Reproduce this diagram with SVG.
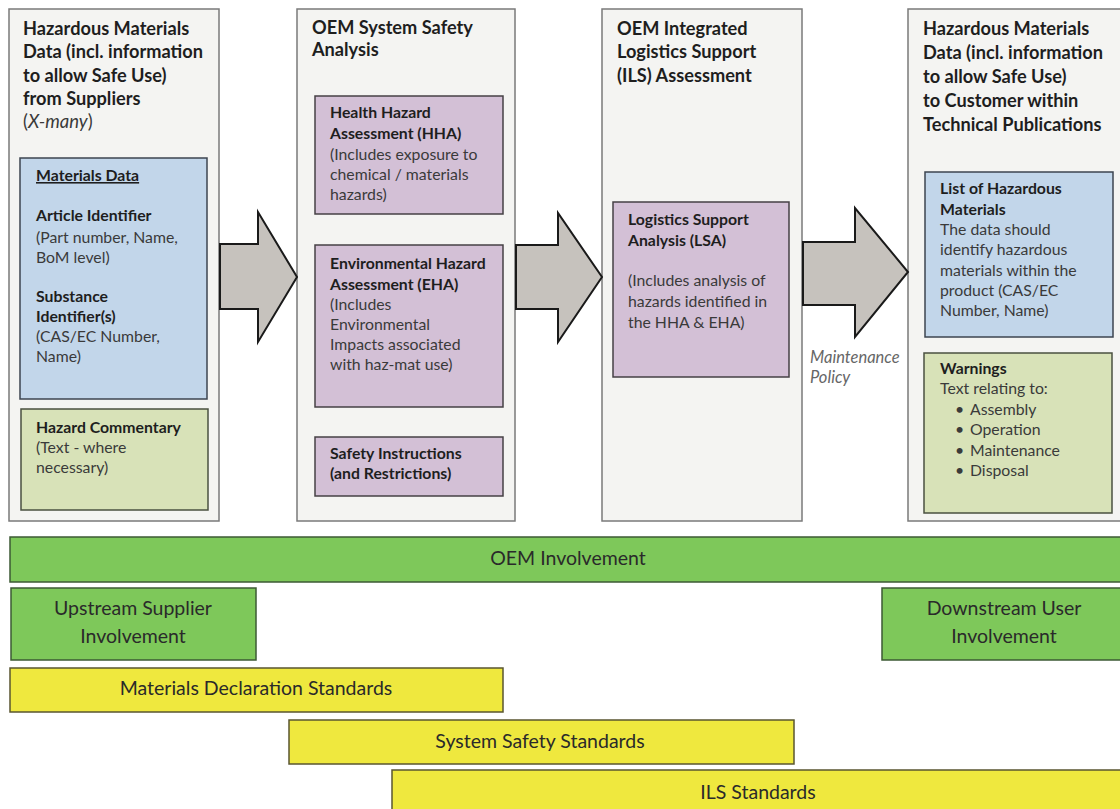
<svg xmlns="http://www.w3.org/2000/svg" width="1120" height="809" viewBox="0 0 1120 809">
<style>
.col{fill:#f4f4f2;stroke:#7a7a7a;stroke-width:1.5}
.blue{fill:#c2d6ea;stroke:#3c4450;stroke-width:1.5}
.lgreen{fill:#d8e2b8;stroke:#4a5040;stroke-width:1.5}
.purple{fill:#d3c0d6;stroke:#454045;stroke-width:1.5}
.arrow{fill:#c6c2bd;stroke:#1a1a1a;stroke-width:2;stroke-linejoin:miter}
.gbar{fill:#7ec85a;stroke:#3d5a34;stroke-width:1.5}
.ybar{fill:#efe83e;stroke:#5a5630;stroke-width:1.5}
text{font-family:Lato,"Liberation Sans",sans-serif}
.t{font-size:18.2px;font-weight:bold;fill:#1e1e1e}
.b{font-size:15.8px;font-weight:bold;fill:#1e1e1e}
.r{font-size:15.8px;fill:#3a3a3a}
.bar{font-size:19.5px;fill:#2a2a2a;text-anchor:middle}
.it{font-size:16.5px;font-style:italic;fill:#666666}
</style>

<g id="col1">
<rect class="col" x="9" y="9" width="210" height="512"/>
<text class="t" x="23"><tspan x="23" y="35">Hazardous Materials</tspan><tspan x="23" y="58">Data (incl. information</tspan><tspan x="23" y="82">to allow Safe Use)</tspan><tspan x="23" y="105">from Suppliers</tspan></text>
<text class="r" x="23" y="128" style="font-size:18.5px">(<tspan font-style="italic">X-many</tspan>)</text>
</g>
<g id="materials-data">
<rect class="blue" x="20" y="158" width="187" height="241"/>
<text class="b" x="36" y="181" text-decoration="underline">Materials Data</text>
<text class="b" x="36" y="221">Article Identifier</text>
<text class="r"><tspan x="36" y="243">(Part number, Name,</tspan><tspan x="36" y="263">BoM level)</tspan></text>
<text class="b"><tspan x="36" y="302">Substance</tspan><tspan x="36" y="322">Identifier(s)</tspan></text>
<text class="r"><tspan x="36" y="342">(CAS/EC Number,</tspan><tspan x="36" y="362">Name)</tspan></text>
</g>
<g id="hazard-commentary">
<rect class="lgreen" x="21" y="409" width="187" height="101"/>
<text class="b" x="36" y="433">Hazard Commentary</text>
<text class="r"><tspan x="36" y="453">(Text - where</tspan><tspan x="36" y="473">necessary)</tspan></text>
</g>

<g id="col2">
<rect class="col" x="297" y="9" width="218" height="512"/>
<text class="t"><tspan x="312" y="34">OEM System Safety</tspan><tspan x="312" y="56">Analysis</tspan></text>
</g>
<g id="hha">
<rect class="purple" x="315" y="96" width="188" height="118"/>
<text class="b"><tspan x="330" y="118">Health Hazard</tspan><tspan x="330" y="139">Assessment (HHA)</tspan></text>
<text class="r"><tspan x="330" y="160">(Includes exposure to</tspan><tspan x="330" y="180">chemical / materials</tspan><tspan x="330" y="200">hazards)</tspan></text>
</g>
<g id="eha">
<rect class="purple" x="315" y="245" width="188" height="162"/>
<text class="b"><tspan x="330" y="269">Environmental Hazard</tspan><tspan x="330" y="290">Assessment (EHA)</tspan></text>
<text class="r"><tspan x="330" y="310">(Includes</tspan><tspan x="330" y="330">Environmental</tspan><tspan x="330" y="350">Impacts associated</tspan><tspan x="330" y="370">with haz-mat use)</tspan></text>
</g>
<g id="safety-instructions">
<rect class="purple" x="315" y="437" width="188" height="59"/>
<text class="b"><tspan x="330" y="459">Safety Instructions</tspan><tspan x="330" y="479">(and Restrictions)</tspan></text>
</g>

<g id="col3">
<rect class="col" x="602" y="9" width="200" height="512"/>
<text class="t"><tspan x="617" y="35">OEM Integrated</tspan><tspan x="617" y="58">Logistics Support</tspan><tspan x="617" y="82">(ILS) Assessment</tspan></text>
</g>
<g id="lsa">
<rect class="purple" x="613" y="202" width="176" height="175"/>
<text class="b"><tspan x="628" y="225">Logistics Support</tspan><tspan x="628" y="246">Analysis (LSA)</tspan></text>
<text class="r"><tspan x="628" y="286">(Includes analysis of</tspan><tspan x="628" y="307">hazards identified in</tspan><tspan x="628" y="328">the HHA &amp; EHA)</tspan></text>
</g>

<g id="col4">
<rect class="col" x="908" y="9" width="220" height="512"/>
<text class="t"><tspan x="923" y="35">Hazardous Materials</tspan><tspan x="923" y="59">Data (incl. information</tspan><tspan x="923" y="83">to allow Safe Use)</tspan><tspan x="923" y="107">to Customer within</tspan><tspan x="923" y="131">Technical Publications</tspan></text>
</g>
<g id="list-hazardous">
<rect class="blue" x="925" y="172" width="188" height="165"/>
<text class="b"><tspan x="940" y="194">List of Hazardous</tspan><tspan x="940" y="215">Materials</tspan></text>
<text class="r"><tspan x="940" y="235">The data should</tspan><tspan x="940" y="255">identify hazardous</tspan><tspan x="940" y="276">materials within the</tspan><tspan x="940" y="296">product (CAS/EC</tspan><tspan x="940" y="316">Number, Name)</tspan></text>
</g>
<g id="warnings">
<rect class="lgreen" x="924" y="353" width="188" height="160"/>
<text class="b" x="940" y="374">Warnings</text>
<text class="r"><tspan x="940" y="394">Text relating to:</tspan><tspan x="955" y="415">•</tspan><tspan x="970" y="415">Assembly</tspan><tspan x="955" y="435">•</tspan><tspan x="970" y="435">Operation</tspan><tspan x="955" y="456">•</tspan><tspan x="970" y="456">Maintenance</tspan><tspan x="955" y="476">•</tspan><tspan x="970" y="476">Disposal</tspan></text>
</g>

<g id="connectors">
<polygon class="arrow" points="220,244 258,244 258,212 297,277 258,342 258,309 220,309"/>
<polygon class="arrow" points="516,245 558,245 558,213 602,277 558,342 558,309 516,309"/>
<polygon class="arrow" points="803,242 855,242 855,208 908,272 855,337 855,305 803,305"/>
<text class="it"><tspan x="810" y="363">Maintenance</tspan><tspan x="810" y="383">Policy</tspan></text>
</g>

<g id="oem-involvement">
<rect class="gbar" x="10" y="537" width="1120" height="45"/>
<text class="bar" x="568" y="565">OEM Involvement</text>
</g>
<g id="upstream">
<rect class="gbar" x="11" y="588" width="245" height="72"/>
<text class="bar"><tspan x="133" y="615">Upstream Supplier</tspan><tspan x="133" y="643">Involvement</tspan></text>
</g>
<g id="downstream">
<rect class="gbar" x="882" y="588" width="250" height="72"/>
<text class="bar"><tspan x="1004" y="615">Downstream User</tspan><tspan x="1004" y="643">Involvement</tspan></text>
</g>
<g id="materials-declaration">
<rect class="ybar" x="10" y="668" width="493" height="44"/>
<text class="bar" x="256" y="695">Materials Declaration Standards</text>
</g>
<g id="system-safety">
<rect class="ybar" x="289" y="720" width="505" height="44"/>
<text class="bar" x="540" y="748">System Safety Standards</text>
</g>
<g id="ils-standards">
<rect class="ybar" x="392" y="770" width="740" height="50"/>
<text class="bar" x="758" y="799">ILS Standards</text>
</g>
</svg>
